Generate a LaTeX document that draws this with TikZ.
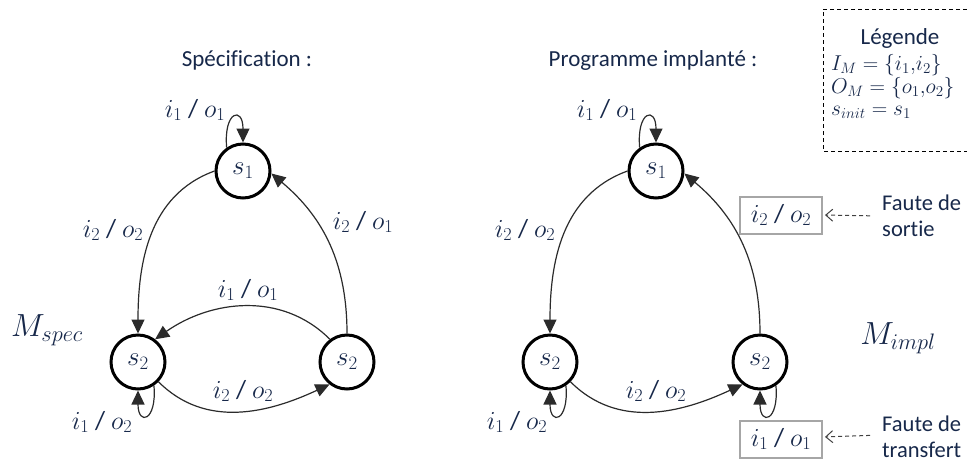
\RequirePackage{fix-cm}
\documentclass[tikz,border=0pt]{standalone}
\usepackage{fontspec}
\setmainfont{Carlito}[Ligatures=NoCommon]
\usetikzlibrary{arrows.meta}
\definecolor{navy}{HTML}{17284A}
\definecolor{edgec}{HTML}{2B2B2B}
\definecolor{boxgray}{HTML}{A6A6A6}
\tikzset{
  state/.style={circle, draw=black, line width=3pt, minimum size=54pt, inner sep=0pt,
    font=\fontsize{27}{27}\selectfont, text=navy},
  lbl/.style={font=\fontsize{26}{27}\selectfont, text=navy, inner sep=1pt},
  mlabel/.style={font=\fontsize{32}{34}\selectfont, text=navy, inner sep=1pt},
  title/.style={font=\fontsize{23}{26}\selectfont, text=navy, inner sep=1pt},
  legmath/.style={font=\fontsize{21.5}{22}\selectfont, text=navy, inner sep=0pt,
    text height=14pt, text depth=2pt},
  faulttext/.style={font=\fontsize{22.5}{26}\selectfont, text=navy, inner sep=0pt, align=left, anchor=west},
  edge/.style={draw=edgec, line width=1.2pt, -{Triangle[length=14pt,width=13pt]}},
  faultbox/.style={draw=boxgray, line width=2pt, fill=white, minimum width=82pt,
    minimum height=37pt, inner sep=2pt, font=\fontsize{26}{27}\selectfont, text=navy},
  faultarrow/.style={draw=black!75, line width=1pt, dash pattern=on 4pt off 3pt,
    -{Straight Barb[length=7pt,width=12pt]}, shorten <=12pt, shorten >=2pt},
  legbox/.style={draw=black, line width=1pt, dash pattern=on 4pt off 3pt}
}
\begin{document}
\begin{tikzpicture}[x=1pt,y=-1pt]
\useasboundingbox (0,0) rectangle (967,464);

% ---------- Left: specification ----------
\node[title] (tL) at (247,60) {Spécification :};
\node[state] (sL1) at (243,171) {$s_1$};
\node[state] (sL2) at (138,362) {$s_2$};
\node[state] (sL3) at (347,362) {$s_2$};

\draw[edge] (sL1.180) to[out=200,in=90] (sL2.90);
\draw[edge] (sL3.90) to[out=90,in=-40] (sL1.-5);
\draw[edge] (sL3.127) to[out=135,in=35] (sL2.53);
\draw[edge] (sL2.-44) to[out=-45,in=-155] (sL3.232);
\draw[edge] (sL1.125) to[out=95,in=90,looseness=5.5] (sL1.90);
\draw[edge] (sL2.-56) to[out=-85,in=-90,looseness=5.5] (sL2.-90);

\node[lbl] (lL1) at (195,110) {$i_1$ / $o_1$};
\node[lbl] (lL2) at (113,230) {$i_2$ / $o_2$};
\node[lbl] (lL3) at (363,222) {$i_2$ / $o_1$};
\node[lbl] (lL4) at (248,290) {$i_1$ / $o_1$};
\node[lbl] (lL5) at (243,391) {$i_2$ / $o_2$};
\node[lbl] (lL6) at (102,422) {$i_1$ / $o_2$};
\node[mlabel] (Ms) at (47,330) {$M_{spec}$};

% ---------- Right: implementation ----------
\node[title] (tR) at (653,60) {Programme implanté :};
\node[state] (sR1) at (656,171) {$s_1$};
\node[state] (sR2) at (550,362) {$s_2$};
\node[state] (sR3) at (760,362) {$s_2$};

\draw[edge] (sR1.180) to[out=200,in=90] (sR2.90);
\draw[edge] (sR3.90) to[out=90,in=-40] (sR1.-5);
\draw[edge] (sR2.-44) to[out=-45,in=-155] (sR3.232);
\draw[edge] (sR1.125) to[out=95,in=90,looseness=5.5] (sR1.90);
\draw[edge] (sR2.-56) to[out=-85,in=-90,looseness=5.5] (sR2.-90);
\draw[edge] (sR3.-56) to[out=-85,in=-90,looseness=5.5] (sR3.-90);

\node[lbl] (lR1) at (607,110) {$i_1$ / $o_1$};
\node[lbl] (lR2) at (525,230) {$i_2$ / $o_2$};
\node[lbl] (lR5) at (656,391) {$i_2$ / $o_2$};
\node[lbl] (lR6) at (517,422) {$i_1$ / $o_2$};
\node[mlabel] (Mi) at (898,338) {$M_{impl}$};

\node[faultbox] (fb1) at (781,215) {$i_2$ / $o_2$};
\node[faultbox] (fb2) at (781,439) {$i_1$ / $o_1$};
\node[faulttext] (ft1) at (882,216) {Faute de\\sortie};
\node[faulttext] (ft2) at (882,437) {Faute de\\transfert};
\draw[faultarrow] (ft1.west) -- (fb1.east);
\draw[faultarrow] ([yshift=2pt]ft2.west) -- ([yshift=2pt]fb2.east);

% ---------- Legend ----------
\draw[legbox] (967,9) -- (823,9) -- (823,151) -- (967,151);
\node[title] (leg) at (900,38) {Légende};
\node[legmath, anchor=base west] (lg1) at (831,70) {$I_M=\{i_1{,}i_2\}$};
\node[legmath, anchor=base west] (lg2) at (831,93) {$O_M=\{o_1{,}o_2\}$};
\node[legmath, anchor=base west] (lg3) at (831,115) {$s_{init}=s_1$};
\end{tikzpicture}
\end{document}
